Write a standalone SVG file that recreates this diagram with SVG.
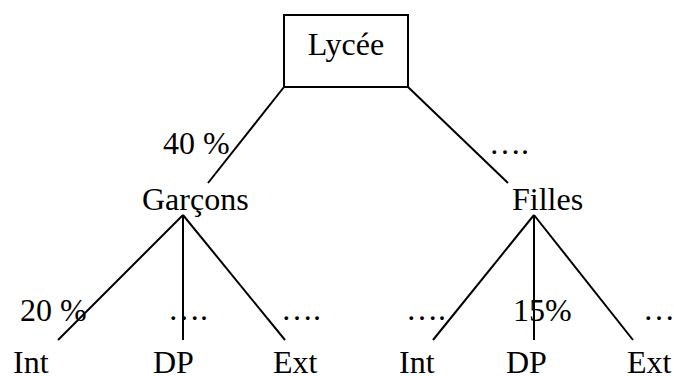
<svg xmlns="http://www.w3.org/2000/svg" width="674" height="376" viewBox="0 0 674 376">
<style>
text{font-family:"Liberation Serif","Times New Roman",serif;font-size:32px;fill:#000}
.l{stroke:#000;stroke-width:2;fill:none}
</style>
<rect width="674" height="376" fill="#fff"/>
<g id="connectors">
<line class="l" x1="284" y1="87" x2="208" y2="183"/>
<line class="l" x1="408" y1="87" x2="508" y2="183"/>
<line class="l" x1="183" y1="215" x2="58" y2="340"/>
<line class="l" x1="183" y1="215" x2="183" y2="340"/>
<line class="l" x1="183" y1="215" x2="285" y2="340"/>
<line class="l" x1="534" y1="215" x2="433" y2="340"/>
<line class="l" x1="534" y1="215" x2="534" y2="340"/>
<line class="l" x1="534" y1="215" x2="633" y2="340"/>
</g>
<g id="labels">
<text x="163" y="154">40 %</text>
<text x="489" y="154">….</text>
<text x="20" y="321">20 %</text>
<text x="168" y="320">….</text>
<text x="281" y="320">….</text>
<text x="406" y="320">….</text>
<text x="513" y="321">15%</text>
<text x="643" y="320">….</text>
</g>
<g id="lycee">
<rect class="l" x="284" y="15" width="124" height="72"/>
<text x="346" y="55" text-anchor="middle">Lycée</text>
</g>
<g id="garcons"><text x="142" y="210">Garçons</text></g>
<g id="filles"><text x="512" y="210">Filles</text></g>
<g id="g-int"><text x="13" y="373">Int</text></g>
<g id="g-dp"><text x="153" y="373">DP</text></g>
<g id="g-ext"><text x="273" y="373">Ext</text></g>
<g id="f-int"><text x="399" y="373">Int</text></g>
<g id="f-dp"><text x="506" y="373">DP</text></g>
<g id="f-ext"><text x="627" y="373">Ext</text></g>
</svg>
